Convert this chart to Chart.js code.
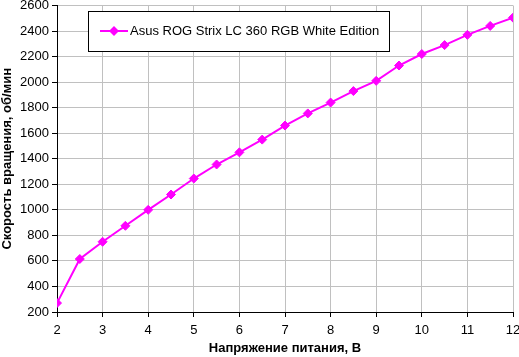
<!DOCTYPE html>
<html>
<head>
<meta charset="utf-8">
<script src="https://cdn.jsdelivr.net/npm/chart.js@4/dist/chart.umd.min.js"></script>
<style>
  html, body { margin: 0; padding: 0; background: #fff; }
  #wrap { width: 519px; height: 357px; }
</style>
</head>
<body>
<div id="wrap"><canvas id="chart" width="519" height="357"></canvas></div>
<script>
// Daten
const VOLTAGES = [2, 2.5, 3, 3.5, 4, 4.5, 5, 5.5, 6, 6.5, 7, 7.5, 8, 8.5, 9, 9.5, 10, 10.5, 11, 11.5, 12];
const RPM = [270, 615, 750, 875, 1000, 1120, 1245, 1355, 1450, 1550, 1660, 1755, 1840, 1930, 2010, 2130, 2220, 2290, 2370, 2440, 2505];
const SERIES_LABEL = 'Asus ROG Strix LC 360 RGB White Edition';
const X_TITLE = 'Напряжение питания, В';
const Y_TITLE = 'Скорость вращения, об/мин';

const FONT = '"Liberation Sans", Arial, sans-serif';
const MAGENTA = '#ff00ff';
const GRID = '#c0c0c0';

// Legende als Kasten innerhalb der Plotfläche
const boxLegend = {
  id: 'boxLegend',
  afterDraw(chart) {
    const c = chart.ctx;
    c.save();
    c.fillStyle = '#fff';
    c.fillRect(88.5, 11.5, 301, 40);
    c.strokeStyle = '#000';
    c.lineWidth = 1;
    c.strokeRect(88.5, 11.5, 301, 40);
    // Linienmuster
    c.strokeStyle = MAGENTA;
    c.lineWidth = 2;
    c.beginPath();
    c.moveTo(100, 31);
    c.lineTo(128, 31);
    c.stroke();
    // Raute
    const r = 5;
    c.fillStyle = MAGENTA;
    c.beginPath();
    c.moveTo(114 - r, 31);
    c.lineTo(114, 31 - r);
    c.lineTo(114 + r, 31);
    c.lineTo(114, 31 + r);
    c.closePath();
    c.fill();
    // Text
    c.fillStyle = '#000';
    c.font = '13px ' + FONT;
    c.textBaseline = 'middle';
    c.textAlign = 'left';
    c.fillText(SERIES_LABEL, 130, 31);
    c.restore();
  }
};

new Chart(document.getElementById('chart'), {
  type: 'line',
  data: {
    datasets: [{
      label: SERIES_LABEL,
      data: VOLTAGES.map((v, i) => ({ x: v, y: RPM[i] })),
      borderColor: MAGENTA,
      backgroundColor: MAGENTA,
      borderWidth: 2,
      tension: 0,
      pointStyle: 'rectRot',
      pointRadius: 4.5,
      pointBorderWidth: 1,
      pointBorderColor: MAGENTA,
      pointBackgroundColor: MAGENTA,
    }]
  },
  options: {
    responsive: false,
    animation: false,
    layout: { padding: { top: 5, right: 6, left: 0, bottom: 0 } },
    scales: {
      x: {
        type: 'linear',
        min: 2, max: 12,
        afterFit: s => { s.height = 45; s.paddingLeft = 0; s.paddingRight = 0; },
        ticks: { stepSize: 1, color: '#000', padding: 6, font: { family: FONT, size: 13 }, callback: v => String(v) },
        grid: { color: GRID, tickColor: '#000', tickLength: 5 },
        border: { color: '#000', width: 1 },
        title: {
          display: true, text: X_TITLE, color: '#000',
          font: { family: FONT, size: 13, weight: 'bold' },
          padding: { top: 0, bottom: 1 }
        }
      },
      y: {
        min: 200, max: 2600,
        afterFit: s => { s.width = 57; s.paddingTop = 0; s.paddingBottom = 0; },
        ticks: { stepSize: 200, color: '#000', padding: 3, font: { family: FONT, size: 13 }, callback: v => String(v) },
        grid: { color: GRID, tickColor: '#000', tickLength: 5 },
        border: { color: '#000', width: 1 },
        title: {
          display: true, text: Y_TITLE, color: '#000',
          font: { family: FONT, size: 13, weight: 'bold' },
          padding: { top: 0, bottom: 0 }
        }
      }
    },
    plugins: {
      legend: { display: false },
      tooltip: { enabled: false }
    }
  },
  plugins: [boxLegend]
});
</script>
</body>
</html>
